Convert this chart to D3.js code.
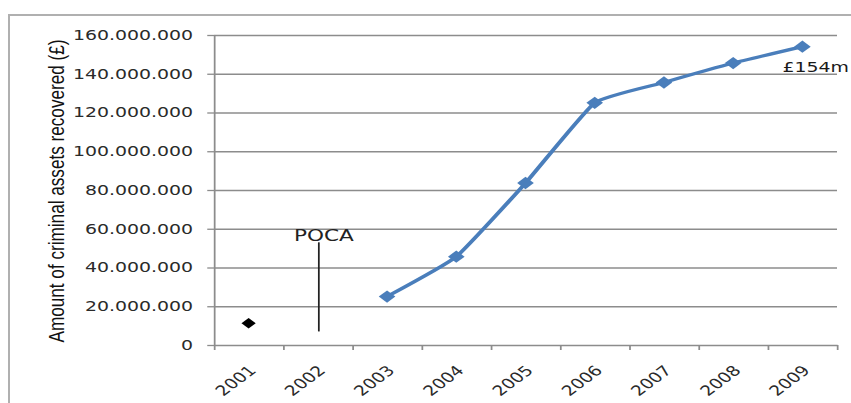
<!DOCTYPE html>
<html>
<head>
<meta charset="utf-8">
<script src="https://cdn.jsdelivr.net/npm/d3@7/dist/d3.min.js"></script>
<style>
  html, body { margin: 0; padding: 0; background: #fff; }
  svg { display: block; }
</style>
</head>
<body>
<svg width="851" height="403"></svg>
<script>
// chart values
var years = ["2001", "2002", "2003", "2004", "2005", "2006", "2007", "2008", "2009"];
var lineYears = ["2003", "2004", "2005", "2006", "2007", "2008", "2009"];
var recovered = [25000000, 45600000, 83600000, 125000000, 135500000, 145500000, 154000000];
var earlyYears = ["2001"];
var earlyValues = [11200000];
var yTicks = [0, 20000000, 40000000, 60000000, 80000000, 100000000, 120000000, 140000000, 160000000];
var yTickLabels = ["0", "20.000.000", "40.000.000", "60.000.000", "80.000.000",
                   "100.000.000", "120.000.000", "140.000.000", "160.000.000"];
var pocaYear = "2002";
var pocaRange = [7000000, 53000000];
var pocaLabel = "POCA";
var endLabel = "£154m";
var yTitle = "Amount of criminal  assets recovered (£)";

// the picture is stretched sideways, so everything is drawn in a squeezed frame
var sx = 1.35;
var plotLeft = 214, plotRight = 837, plotTop = 35, plotBottom = 345;

var svg = d3.select("svg");

svg.append("rect")
    .attr("x", 9).attr("y", 15)
    .attr("width", 900).attr("height", 450)
    .style("fill", "#fff")
    .style("stroke", "#b0b0b0")
    .style("stroke-width", "2px");

var g = svg.append("g").attr("transform", "scale(" + sx + ",1)");

var x = d3.scaleBand().domain(years).range([plotLeft / sx, plotRight / sx]);
var xEdge = d3.scaleLinear().domain([0, years.length]).range([plotLeft / sx, plotRight / sx]);
var y = d3.scaleLinear().domain([0, 160000000]).range([plotBottom, plotTop]);
function cx(d) { return x(d) + x.bandwidth() / 2; }

// gridlines
g.append("g")
    .attr("transform", "translate(" + plotLeft / sx + ",0)")
    .call(d3.axisLeft(y).tickValues(yTicks.slice(1)).tickSize(-(plotRight - plotLeft) / sx).tickFormat(""))
    .call(function (a) { a.select(".domain").remove(); })
    .selectAll("line")
    .style("stroke", "#8c8c8c")
    .style("stroke-width", "1.3px");

// y axis
var yAxis = g.append("g")
    .attr("transform", "translate(" + plotLeft / sx + ",0)")
    .call(d3.axisLeft(y).tickValues(yTicks).tickSize(5).tickSizeOuter(0).tickPadding(10.5)
        .tickFormat(function (d, i) { return yTickLabels[i]; }));
yAxis.selectAll("line, path").style("stroke", "#8c8c8c").style("stroke-width", "1.3px");
yAxis.selectAll("text")
    .style("font-family", "DejaVu Sans")
    .style("font-size", "14px")
    .style("fill", "#2a2a2a");

// x axis line and ticks at the band edges
var xAxis = g.append("g")
    .attr("transform", "translate(0," + plotBottom + ")")
    .call(d3.axisBottom(xEdge).ticks(years.length).tickSize(5).tickSizeOuter(0).tickFormat(""));
xAxis.selectAll("line, path").style("stroke", "#8c8c8c").style("stroke-width", "1.3px");

// x labels
var xLabels = g.append("g")
    .attr("transform", "translate(0," + plotBottom + ")")
    .call(d3.axisBottom(x).tickSize(0).tickFormat(function (d) { return d; }));
xLabels.select(".domain").remove();
xLabels.selectAll("text")
    .attr("x", 0).attr("y", 0).attr("dy", "0.35em")
    .attr("transform", "translate(3,23) rotate(-45)")
    .style("text-anchor", "end")
    .style("font-family", "DejaVu Sans")
    .style("font-size", "14px")
    .style("fill", "#2a2a2a");

// y title
g.append("text")
    .attr("transform", "translate(" + 64 / sx + "," + 191 + ") rotate(-90)")
    .attr("text-anchor", "middle")
    .attr("textLength", 303)
    .attr("lengthAdjust", "spacingAndGlyphs")
    .style("font-family", "Liberation Sans Narrow, Liberation Sans, sans-serif")
    .style("font-size", "16px")
    .style("fill", "#111")
    .text(yTitle);

// POCA marker
g.append("line")
    .attr("x1", cx(pocaYear) + 1 / sx).attr("x2", cx(pocaYear) + 1 / sx)
    .attr("y1", y(pocaRange[1])).attr("y2", y(pocaRange[0]))
    .style("stroke", "#222")
    .style("stroke-width", "1.3px");
g.append("text")
    .attr("x", cx(pocaYear) + 6 / sx)
    .attr("y", y(pocaRange[1]) - 1)
    .attr("text-anchor", "middle")
    .style("font-family", "DejaVu Sans")
    .style("font-size", "16px")
    .style("fill", "#222")
    .text(pocaLabel);

// recovered series
var line = d3.line()
    .x(function (d, i) { return cx(lineYears[i]); })
    .y(function (d) { return y(d); })
    .curve(d3.curveCardinal.tension(0.6));
g.append("path")
    .datum(recovered)
    .attr("d", line)
    .style("fill", "none")
    .style("stroke", "#4a7ebb")
    .style("stroke-width", "3.2px");

var diamond = d3.symbol().type(d3.symbolSquare);
g.selectAll(".pt")
    .data(recovered)
    .enter()
    .append("path")
    .attr("class", "pt")
    .attr("d", diamond.size(76))
    .attr("transform", function (d, i) { return "translate(" + cx(lineYears[i]) + "," + y(d) + ") rotate(45)"; })
    .style("fill", "#4a7ebb");

g.selectAll(".early")
    .data(earlyValues)
    .enter()
    .append("path")
    .attr("class", "early")
    .attr("d", diamond.size(56))
    .attr("transform", function (d, i) { return "translate(" + cx(earlyYears[i]) + "," + y(d) + ") rotate(45)"; })
    .style("fill", "#000");

// end label
var last = recovered.length - 1;
g.append("text")
    .attr("x", cx(lineYears[last]) - 20 / sx)
    .attr("y", y(recovered[last]) + 25)
    .style("font-family", "DejaVu Sans")
    .style("font-size", "14px")
    .style("fill", "#1a1a1a")
    .text(endLabel);
</script>
</body>
</html>
